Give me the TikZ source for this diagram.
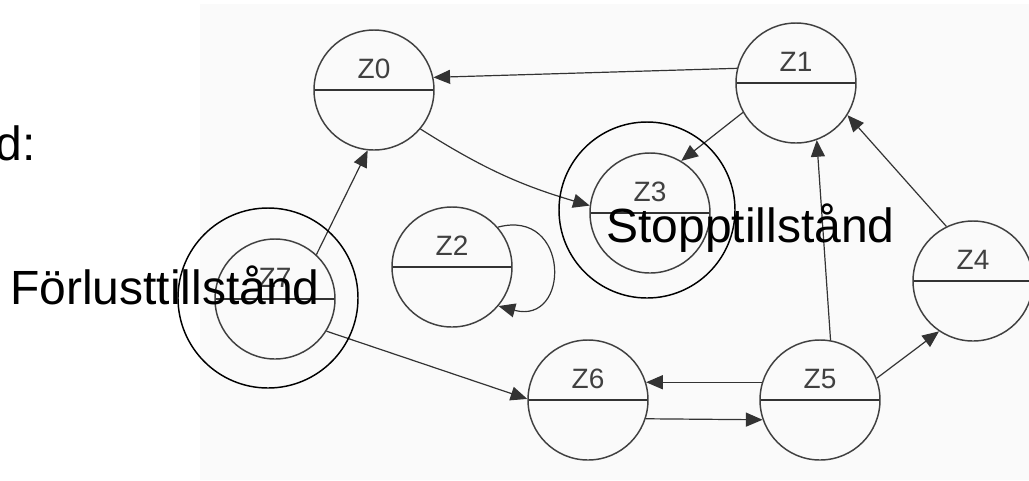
\documentclass[tikz,border=0pt]{standalone}
\usepackage{fontspec}
\setmainfont{Liberation Sans}
\usetikzlibrary{positioning, arrows.meta}

\begin{document}
\begin{tikzpicture}[
            x=0.75pt, y=0.75pt,
            >={Triangle[length=12.5pt, width=10.5pt]},
            state/.style={circle, draw=black!75, line width=1.1pt, minimum size=90pt, inner sep=0pt,
                path picture={\draw[black!80, line width=1.4pt] (path picture bounding box.west) -- (path picture bounding box.east);}},
            zlabel/.style={font=\fontsize{21}{24}\selectfont, text=black!75, inner sep=0pt, yshift=15.75pt},
            ring/.style={circle, draw=black, line width=1.1pt, inner sep=0pt},
            trans/.style={->, black!80, line width=0.9pt},
            bigtext/.style={font=\fontsize{36}{43}\selectfont, inner sep=0pt}
        ]
        \useasboundingbox (0,0) rectangle (1029,-480);
        \fill[black!2] (200,-4) rectangle (1029,-480);

        % States
        \node[state, label={[zlabel]center:Z0}] (Z0) at (374,-90) {};
        \node[state, label={[zlabel]center:Z1}] (Z1) at (796,-83) {};
        \node[state, label={[zlabel]center:Z2}] (Z2) at (452,-267) {};
        \node[state, label={[zlabel]center:Z3}] (Z3) at (650,-213) {};
        \node[state, label={[zlabel]center:Z4}] (Z4) at (973,-281) {};
        \node[state, label={[zlabel]center:Z5}] (Z5) at (820,-400) {};
        \node[state, label={[zlabel]center:Z6}] (Z6) at (588,-400) {};
        \node[state, label={[zlabel]center:Z7}] (Z7) at (275,-299) {};

        % Transitions
        \draw[trans] (Z1.166) -- (Z0.12);
        \draw[trans] (Z0.320) to[bend right=8] (Z3.173);
        \draw[trans] (Z1.209) -- (Z3.59);
        \draw[trans] (Z7.47) -- (Z0.264);
        \draw[trans] (Z7.328) -- (Z6.179);
        \draw[trans] (Z2.41) .. controls +(15:75) and +(-15:75) .. (Z2.320);
        \draw[trans] (Z5.163) -- (Z6.17);
        \draw[trans] (Z6.342) -- (Z5.199);
        \draw[trans] (Z5.80) -- (Z1.290);
        \draw[trans] (Z5.21) -- (Z4.236);
        \draw[trans] (Z4.116) -- (Z1.328);

        % Marked states
        \node[ring, minimum size=132pt] (Z3ring) at (647,-210) {};
        \node[ring, minimum size=135pt] (Z7ring) at (268,-298) {};
        \node[bigtext, anchor=base west] (stoptext) at (606,-242) {Stopptillstånd};
        \node[bigtext, anchor=base west] (losstext) at (10,-304) {Förlusttillstånd};
        \node[bigtext, anchor=base east] (dtext) at (36,-160) {d:};
\end{tikzpicture}
\end{document}
